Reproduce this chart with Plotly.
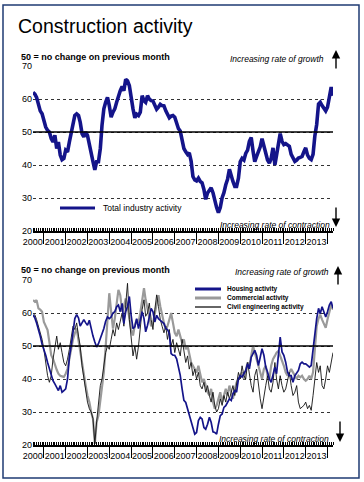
import pandas as pd
import plotly.graph_objects as go

# ---------------- data (monthly, Jan 2000 - Oct 2013) ----------------
months = pd.date_range("2000-01-01", periods=166, freq="MS")

total_activity = [
    62, 61.5, 60.5, 58, 56.4, 55.5, 53, 51.5, 50.5, 50, 48, 47,
    49, 45, 47, 43, 41.6, 42, 44.5, 44, 47, 50, 53, 55,
    55.5, 55, 53, 49.5, 48.5, 50, 49, 46, 42.5, 41, 38.5, 41,
    41, 45, 52, 57, 59, 60.5, 58, 54.5, 56, 57, 59, 61,
    62.5, 63.8, 62.5, 66, 65.5, 64, 59.5, 57, 54.3, 55.4, 55, 56,
    61, 59.5, 59, 61, 60, 59.5, 59.4, 58, 56.9, 57.5, 58.4, 58,
    57.9, 56.4, 55.5, 54.3, 54.8, 55, 54.5, 52.3, 51, 50.3, 47, 45,
    44, 43.2, 43.7, 41.2, 36.5, 35.5, 35.2, 36, 35, 34.6, 32.6, 29.6,
    31.5, 32.6, 33.1, 31.6, 29, 27.1, 25.6, 27.1, 30.1, 31.6, 34, 35.7,
    38.7, 36.5, 35, 33.5, 33.5, 36, 41, 42, 41.5, 43.5, 44.5, 47.2,
    48.3, 44.2, 41, 42.6, 44, 45.5, 48, 45.5, 43, 41.5, 40.6, 42,
    45.2, 40, 43, 45.7, 49.5, 47.2, 46.2, 46.5, 46, 45.7, 43.2, 42,
    41.1, 41.5, 42.1, 42.3, 42.6, 44, 45.2, 43, 42, 41.6, 43.2, 48.8,
    52.3, 58.5, 59, 58, 57, 56.4, 57.5, 61, 63.6, 61,
]

housing = [
    59.5, 58.5, 57, 55.3, 53, 50.5, 49, 47.2, 45, 43, 41, 39.5,
    38.5, 37.5, 36.5, 38, 36, 36.5, 37, 40, 46.6, 50, 54.5, 58.3,
    59.5, 58.5, 56, 57, 58, 57, 56.3, 57.8, 54.8, 53, 51.2, 49.7,
    50.7, 52.2, 54, 55.3, 57.5, 58.8, 58.3, 58.8, 60, 60.4, 61.9, 62.4,
    60.4, 62.9, 56.8, 60.4, 62, 65, 59.3, 55.3, 55.8, 58.3, 55.3, 57.8,
    60.4, 58.3, 54.3, 56.3, 59.3, 61.4, 60.4, 57.3, 59.3, 58.3, 57.8, 57.3,
    56.8, 55.3, 55, 53.8, 47.7, 47.2, 47.2, 46.1, 44, 41.1, 37, 33.5,
    32.9, 30.9, 28.9, 26.9, 24.8, 23.3, 23.8, 27.4, 28.4, 27.9, 25.3, 24.8,
    26.3, 28.4, 26.9, 24, 23.8, 23.3, 26.3, 28.9, 29.4, 31.4, 31.9, 33,
    34, 33.5, 35.5, 36.5, 36, 40, 41, 40.6, 41.5, 42.6, 44.6, 43.1,
    46.6, 47.5, 48.7, 47.2, 44.1, 46.6, 49.2, 47.2, 43.6, 42.1, 40, 39,
    41, 43.6, 41.6, 48.2, 52.7, 48.2, 47.2, 45.1, 42.1, 41, 41, 39,
    41, 41.8, 42.6, 44.6, 45.1, 44.6, 44.6, 44.1, 43.6, 44.1, 49.2, 53.2,
    58.3, 61.4, 59.8, 61.9, 60.4, 58.8, 60.4, 62.4, 63.4, 61.4,
]

commercial = [
    63.9, 63.4, 63.9, 61.4, 61, 60.4, 57.3, 56, 54.8, 51.2, 47.2, 46.1,
    44.1, 42.8, 41.6, 41, 40.8, 40.6, 41.6, 43.1, 46.1, 49.7, 52, 53.8,
    55.3, 51.7, 48.2, 45.1, 41, 38, 35, 33, 30, 27.9, 20.3, 26.9,
    28.9, 32.9, 38, 42.1, 49.7, 58.3, 66, 60.4, 55.3, 58.3, 62.9, 67,
    65.4, 60.4, 61.9, 64.4, 62, 58.3, 55, 53.2, 56.3, 58, 57, 60,
    64, 67.5, 64, 61, 58, 56, 57, 60, 63, 65.4, 62, 59,
    57, 55, 56, 58, 60, 57, 54, 53, 55, 53, 51, 52,
    49, 50, 47, 45, 44, 43, 42, 44, 41, 39, 40, 38,
    36, 35, 37, 33, 31, 32, 34, 36, 33, 35, 37, 35,
    38, 36, 34, 37, 39, 40, 41, 42, 40, 43, 45, 44,
    47, 50, 48, 46, 44, 42, 40, 43, 44, 41, 40, 44,
    46, 47, 48, 48.5, 47, 46, 44, 42, 41, 42, 43, 42,
    41, 40, 41, 40.5, 41, 40, 39.5, 40, 41, 40, 42, 50,
    56, 58.3, 59.5, 58, 57, 55.5, 58, 60, 62.5, 61,
]

civil_engineering = [
    59, 59.5, 58, 56, 54, 52, 49, 45, 41, 39, 41, 46,
    50, 53, 49, 51, 48, 45, 44, 46, 49, 53, 56, 55,
    57, 53, 50, 44, 40, 36, 33, 31, 30, 28, 20.5, 27,
    33, 38, 40, 45, 48, 50, 49, 52, 55, 53, 57, 55,
    58, 60, 56, 64, 69, 58, 52, 47, 50, 46, 50, 56,
    61, 64, 59, 60, 63, 58, 55, 61, 65.5, 62, 58, 56,
    54, 56, 52, 55, 50, 52, 48, 51, 49, 47, 52, 48,
    45, 47, 43, 45, 41, 43, 40, 42, 38, 37, 39, 36,
    38, 35, 33, 36, 32, 30, 31, 34, 32, 35, 33, 36,
    34, 36, 38, 35, 39, 42, 40, 44, 41, 40, 45, 41,
    38, 36, 41, 43, 38, 34, 31, 35, 38, 41, 37, 36,
    39, 45, 40, 37, 41, 38, 36, 37, 40, 42, 38, 35,
    36, 38, 33, 31, 31.5, 32, 33, 31, 32, 30.5, 35, 40,
    45, 42, 44, 38, 37, 40, 44, 42, 45, 48,
]

y_ticks = [20, 30, 40, 50, 60, 70]

# ---------------- styling ----------------
W, H = 364, 482
NAVY = "#14148a"
GREY = "#9a9a9a"
FONT = "Liberation Sans, Arial, sans-serif"


def px(xp):
    return xp / W


def py(yp):
    return 1 - yp / H


fig = go.Figure()

fig.add_trace(go.Scatter(x=months, y=total_activity, mode="lines", name="Total industry activity",
                         line=dict(color=NAVY, width=3.6), xaxis="x", yaxis="y", showlegend=False))
fig.add_trace(go.Scatter(x=months, y=commercial, mode="lines", name="Commercial activity",
                         line=dict(color=GREY, width=2.2), xaxis="x2", yaxis="y2", showlegend=False))
fig.add_trace(go.Scatter(x=months, y=civil_engineering, mode="lines", name="Civil engineering activity",
                         line=dict(color="#111111", width=0.9), xaxis="x2", yaxis="y2", showlegend=False))
fig.add_trace(go.Scatter(x=months, y=housing, mode="lines", name="Housing activity",
                         line=dict(color=NAVY, width=1.7), xaxis="x2", yaxis="y2", showlegend=False))

# year separators sit mid-year; each year label is shifted back onto January
xa = dict(
    domain=[px(33), px(333)],
    range=[months[0], months[-1]],
    showline=True, linecolor="black", linewidth=1.5,
    ticks="outside", ticklen=11, tickcolor="black", tickwidth=1,
    dtick="M12", tick0="2000-07-01", tickformat="%Y", tickangle=0,
    ticklabelshift=-11, ticklabelstandoff=-10,
    tickfont=dict(family=FONT, size=9, color="black"),
    showgrid=False, zeroline=False, automargin=False,
    minor=dict(ticks="inside", dtick="M1", tick0="2000-01-01", ticklen=3, tickcolor="black",
               tickwidth=1, showgrid=False),
)
ya = dict(
    range=[20, 70], tickvals=y_ticks,
    showgrid=True, gridcolor="#333333", griddash="dot", gridwidth=1,
    showline=False, zeroline=False, ticks="", automargin=False,
    tickfont=dict(family=FONT, size=9, color="black"),
)

fig.update_layout(
    width=W, height=H,
    margin=dict(l=0, r=0, t=0, b=0, pad=0),
    paper_bgcolor="white", plot_bgcolor="white",
    xaxis=dict(xa, anchor="y"),
    yaxis=dict(ya, domain=[py(231), py(66)], anchor="x"),
    xaxis2=dict(xa, anchor="y2"),
    yaxis2=dict(ya, domain=[py(445), py(280)], anchor="x2"),
)

shapes = [
    # outer frame
    dict(type="rect", xref="paper", yref="paper", x0=px(3), x1=px(359), y0=py(478), y1=py(5),
         line=dict(color="#1f3b73", width=1.5)),
    # 50 reference lines
    dict(type="line", xref="x domain", yref="y", x0=0, x1=1, y0=50, y1=50, line=dict(color="black", width=1.5)),
    dict(type="line", xref="x2 domain", yref="y2", x0=0, x1=1, y0=50, y1=50, line=dict(color="black", width=1.5)),
    # legend keys
    dict(type="line", xref="paper", yref="paper", x0=px(60), x1=px(95), y0=py(208), y1=py(208),
         line=dict(color=NAVY, width=3)),
    dict(type="line", xref="paper", yref="paper", x0=px(195), x1=px(221), y0=py(289), y1=py(289),
         line=dict(color=NAVY, width=3)),
    dict(type="line", xref="paper", yref="paper", x0=px(195), x1=px(221), y0=py(298), y1=py(298),
         line=dict(color=GREY, width=3)),
    dict(type="line", xref="paper", yref="paper", x0=px(195), x1=px(221), y0=py(307), y1=py(307),
         line=dict(color="black", width=1.2)),
]

ann = []


def text(t, x, y, size, xanchor="left", family=FONT):
    ann.append(dict(text=t, x=px(x), y=py(y), xref="paper", yref="paper", xanchor=xanchor,
                    yanchor="middle", showarrow=False, font=dict(family=family, size=size, color="black")))


def arrow(x, y_head, y_tail):
    ann.append(dict(text="", x=px(x), y=py(y_head), xref="paper", yref="paper", showarrow=True,
                    ax=0, ay=y_tail - y_head, arrowhead=2, arrowsize=1.2, arrowwidth=1.4, arrowcolor="black"))


text("Construction activity", 16, 26, 19.5)
text("<b>50 = no change on previous month</b>", 19, 57, 9)
text("<b>50 = no change on previous month</b>", 19, 270, 9)
text("<i>Increasing rate of growth</i>", 326, 59, 8.5, xanchor="right")
text("<i>Increasing rate of growth</i>", 331, 272, 8.5, xanchor="right")
text("<i>Increasing rate of contraction</i>", 332, 225, 8.5, xanchor="right")
text("<i>Increasing rate of contraction</i>", 331, 439, 8.5, xanchor="right")
text("Total industry activity", 101, 208, 8.5)
text("<b>Housing activity</b>", 225, 289, 6.5)
text("<b>Commercial activity</b>", 225, 298, 6.5)
text("<b>Civil engineering activity</b>", 225, 307, 6.5)
arrow(336, 50, 70)
arrow(336, 227, 206)
arrow(338, 266, 286)
arrow(340, 442, 420)

fig.update_layout(shapes=shapes, annotations=ann)
fig.write_html("out.html", config={"displayModeBar": False},
               post_script="document.body.style.margin='0';")
